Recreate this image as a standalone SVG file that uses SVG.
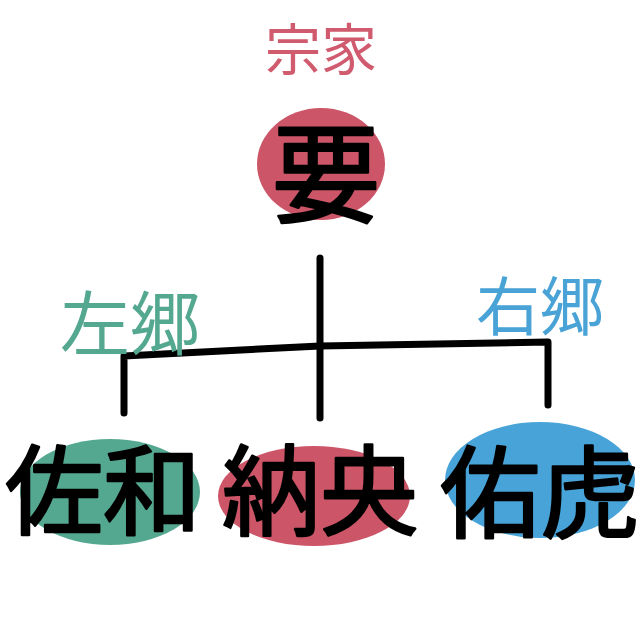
<svg xmlns="http://www.w3.org/2000/svg" width="640" height="640" viewBox="0 0 640 640">
<style>
.k{font-family:"Noto Sans CJK JP","Noto Sans CJK SC",sans-serif;fill:#000;stroke:#000;stroke-width:2.5;stroke-linejoin:round;font-weight:400}
.lab{font-family:"Noto Sans CJK JP","Noto Sans CJK SC",sans-serif;font-weight:400}
.ln{stroke:#000;stroke-width:7;fill:none;stroke-linecap:round;stroke-linejoin:round}
</style>
<rect width="640" height="640" fill="#fff"/>
<g id="connectors">
<path class="ln" d="M320 258 L320 418"/>
<path class="ln" d="M124 413 L124 356 L320 346 L548 342 L548 405"/>
</g>
<g id="root">
<text x="321" y="70" class="lab" font-size="56" fill="#d05a6e" text-anchor="middle">宗家</text>
<ellipse cx="321" cy="164" rx="64" ry="56" fill="#cc5668"/>
<text x="326" y="214" class="k" font-size="108" text-anchor="middle">要</text>
</g>
<g id="label-left">
<text x="130" y="350" class="lab" font-size="70" fill="#55a890" text-anchor="middle">左郷</text>
</g>
<g id="label-right">
<text x="540" y="330" class="lab" font-size="64" fill="#4aa3d6" text-anchor="middle">右郷</text>
</g>
<g id="sawa">
<ellipse cx="110" cy="492" rx="90" ry="53" fill="#55a890"/>
<text x="103" y="527" class="k" font-size="98" text-anchor="middle">佐和</text>
</g>
<g id="nao">
<ellipse cx="314" cy="496" rx="96" ry="50" fill="#cc5668"/>
<text x="320" y="527" class="k" font-size="98" text-anchor="middle">納央</text>
</g>
<g id="yuko">
<ellipse cx="540" cy="480" rx="95" ry="58" fill="#47a3d8"/>
<text x="540" y="530" class="k" font-size="100" text-anchor="middle">佑虎</text>
</g>
</svg>
